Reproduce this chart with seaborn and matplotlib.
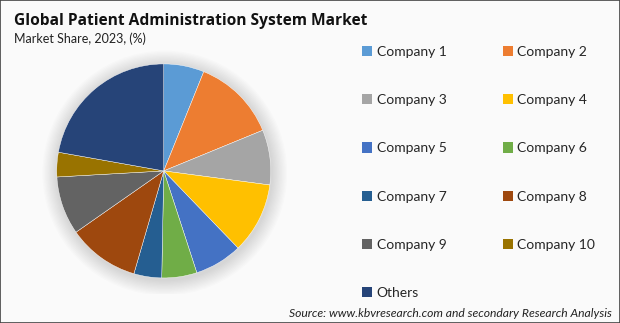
import matplotlib
matplotlib.use("Agg")
import matplotlib.pyplot as plt
from matplotlib.patches import Circle, Rectangle, Patch
import seaborn as sns

categories = ["Company 1", "Company 2", "Company 3", "Company 4", "Company 5",
              "Company 6", "Company 7", "Company 8", "Company 9", "Company 10", "Others"]
shares = [6.1, 12.7, 8.3, 10.7, 7.2, 5.3, 4.2, 10.8, 8.8, 3.7, 22.2]
colors = ["#5B9BD5", "#ED7D31", "#A5A5A5", "#FFC000", "#4472C4", "#70AD47",
          "#255E91", "#9E480E", "#636363", "#997300", "#264478"]

sns.set_theme(style="white")
plt.rcParams["font.family"] = ["Lato", "DejaVu Sans"]
palette = sns.color_palette(colors)

bg = "#fafafa"
fig = plt.figure(figsize=(6.2, 3.23), dpi=100, facecolor=bg)
ax = fig.add_axes([0.0656, 0.0898, 0.397, 0.762])
ax.set_facecolor(bg)

# soft shadow
for i in range(12):
    r = 1.0 + 0.012 * (12 - i)
    ax.add_patch(Circle((0.01, -0.02), r, color="black", alpha=0.012, lw=0, zorder=0))

ax.pie(shares, colors=palette, startangle=90, counterclock=False, radius=1,
       wedgeprops=dict(edgecolor="white", linewidth=0.3))
ax.set_xlim(-1.15, 1.15)
ax.set_ylim(-1.15, 1.15)
ax.set_aspect("equal")
ax.axis("off")

# legend, row-major layout in 2 columns
order = [0, 2, 4, 6, 8, 10, 1, 3, 5, 7, 9]
handles = [Patch(facecolor=palette[i], edgecolor="none") for i in order]
labels = [categories[i] for i in order]
fig.legend(handles, labels, ncol=2, loc="upper left", bbox_to_anchor=(0.575, 0.875),
           frameon=False, fontsize=10, handlelength=0.75, handleheight=0.75,
           handletextpad=0.3, labelspacing=2.61, columnspacing=4.05, borderaxespad=0)

fig.text(0.023, 0.935, "Global Patient Administration System Market", fontsize=11.2,
         fontweight="bold", family=["Open Sans", "DejaVu Sans"], color="#111111", va="center")
fig.text(0.023, 0.88, "Market Share, 2023, (%)", fontsize=9, color="#222222", va="center")
fig.text(0.987, 0.028, "Source: www.kbvresearch.com and secondary Research Analysis",
         fontsize=8.7, style="italic", color="#222222", ha="right", va="center")

fig.add_artist(Rectangle((0.0008, 0.0015), 0.9984, 0.997, transform=fig.transFigure,
                         fill=False, edgecolor="#444444", linewidth=1.2))

fig.savefig("out.png", dpi=100, facecolor=bg)
